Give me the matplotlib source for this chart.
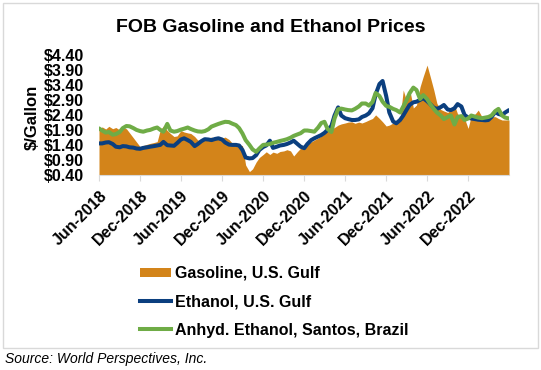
import pandas as pd
import numpy as np
import matplotlib
matplotlib.use('Agg')
import matplotlib.pyplot as plt
from matplotlib.patches import Rectangle, Patch
from matplotlib.lines import Line2D

plt.rcParams['font.family'] = ['Liberation Sans', 'DejaVu Sans']
plt.rcParams['text.parse_math'] = False

# semi-monthly observations, Jun-2018 .. Jun-2023
dates = pd.date_range('2018-06-01', periods=121, freq='SMS')

gasoline = [1.93, 2.02, 1.95, 2.04, 1.96, 2.00, 1.92, 1.98, 1.96, np.nan, np.nan, np.nan,
            1.36, 1.40, 1.44, 1.47, 1.50, 1.53, 1.92, 2.05, 1.90, 1.80, 1.70, 1.72,
            1.90, 1.85, 1.82, 1.80, 1.70, 1.58, 1.60, 1.64, 1.65, 1.68, 1.64, 1.70,
            1.65, 1.68, 1.60, 1.48, 1.45, 1.42, 1.40, 0.75, 0.53, 0.62, 0.85, 1.00,
            1.10, 1.19, 1.10, 1.18, 1.14, 1.20, 1.22, 1.26, 1.22, 1.05, 1.20, 1.31,
            1.35, 1.45, 1.52, 1.58, 1.65, 1.72, 1.78, 1.90, 1.95, 2.00, 2.08, 2.12,
            2.15, 2.18, 2.19, 2.14, 2.18, 2.15, 2.20, 2.25, 2.30, 2.42, 2.30, 2.19,
            2.05, 2.08, 2.15, 2.19, 2.30, 3.25, 2.90, 3.30, 2.65, 2.75, 3.36, 3.70,
            4.08, 3.70, 3.25, 2.80, 2.60, 2.55, 2.50, 2.60, 2.75, 2.45, 2.40, 2.30,
            1.97, 2.40, 2.45, 2.58, 2.35, 2.30, 2.32, 2.36, 2.36, 2.30, 2.25, 2.25,
            2.25]

ethanol_us = [1.47, 1.47, 1.50, 1.51, 1.45, 1.36, 1.34, 1.38, 1.37, 1.34, 1.33, 1.30,
              1.29, 1.32, 1.34, 1.36, 1.38, 1.40, 1.42, 1.52, 1.41, 1.40, 1.39, 1.48,
              1.60, 1.64, 1.58, 1.52, 1.38, 1.45, 1.55, 1.61, 1.60, 1.58, 1.62, 1.64,
              1.60, 1.50, 1.43, 1.42, 1.42, 1.40, 1.25, 1.00, 0.97, 0.98, 1.08, 1.25,
              1.35, 1.40, 1.56, 1.32, 1.36, 1.40, 1.42, 1.45, 1.50, 1.56, 1.45, 1.36,
              1.31, 1.45, 1.58, 1.64, 1.70, 1.75, 1.82, 1.92, 2.05, 2.40, 2.67, 2.40,
              2.31, 2.28, 2.25, 2.25, 2.27, 2.35, 2.40, 2.47, 2.64, 3.10, 3.45, 3.55,
              3.05, 2.50, 2.20, 2.14, 2.25, 2.40, 2.58, 2.75, 2.84, 2.86, 2.92, 2.98,
              2.88, 2.78, 2.66, 2.62, 2.68, 2.75, 2.60, 2.58, 2.64, 2.78, 2.70, 2.42,
              2.33, 2.30, 2.28, 2.26, 2.25, 2.24, 2.25, 2.35, 2.52, 2.45, 2.42, 2.50,
              2.58]

ethanol_br = [1.97, 1.90, 1.83, 1.85, 1.76, 1.78, 1.85, 1.98, 2.05, 2.04, 1.98, 1.92,
              1.88, 1.86, 1.90, 1.92, 1.97, 2.00, 1.92, 1.86, 2.12, 1.90, 1.86, 1.88,
              1.93, 1.96, 2.00, 1.95, 1.90, 1.87, 1.86, 1.88, 1.94, 2.03, 2.08, 2.12,
              2.16, 2.19, 2.18, 2.13, 2.08, 1.98, 1.80, 1.58, 1.42, 1.27, 1.19, 1.30,
              1.42, 1.43, 1.45, 1.49, 1.52, 1.55, 1.58, 1.61, 1.66, 1.72, 1.77, 1.81,
              1.90, 1.90, 1.88, 1.86, 2.00, 2.15, 2.19, 1.95, 1.85, 2.30, 2.61, 2.63,
              2.60, 2.58, 2.57, 2.62, 2.70, 2.80, 2.80, 2.73, 2.85, 3.15, 3.05, 2.86,
              2.72, 2.69, 2.62, 2.58, 2.50, 2.70, 2.90, 3.14, 3.33, 3.25, 2.95, 3.08,
              2.95, 2.78, 2.62, 2.50, 2.40, 2.28, 2.35, 2.40, 2.10, 2.35, 2.38, 2.25,
              2.30, 2.40, 2.36, 2.33, 2.31, 2.33, 2.35, 2.40, 2.55, 2.62, 2.40, 2.33,
              2.30]

labels = ['Gasoline, U.S. Gulf', 'Ethanol, U.S. Gulf', 'Anhyd. Ethanol, Santos, Brazil']
yticks = [0.40, 0.90, 1.40, 1.90, 2.40, 2.90, 3.40, 3.90, 4.40]
xticks = pd.date_range('2018-06-01', '2022-12-01', freq='6MS')

c_gas = '#D3841A'
c_us = '#0B3F7F'
c_br = '#6FAC46'
lw = 2.9

W, H = 541, 370
fig = plt.figure(figsize=(W / 100, H / 100), dpi=100)
ax = fig.add_axes([99 / W, 1 - 175.5 / H, 410 / W, 120 / H])

gas = pd.Series(gasoline, index=dates).dropna()
ax.fill_between(gas.index, 0, gas.values, color=c_gas, lw=0)
ax.plot(dates, ethanol_us, color=c_us, lw=lw, solid_capstyle='round')
ax.plot(dates, ethanol_br, color=c_br, lw=lw, solid_capstyle='round')

ax.set_xlim(dates[0], dates[-1])
ax.set_ylim(0.4, 4.4)
ax.set_yticks(yticks)
ax.set_yticklabels(['${:.2f}'.format(v) for v in yticks], fontsize=11.5, weight='bold')
ax.set_xticks(xticks)
ax.set_xticklabels([d.strftime('%b-%Y') for d in xticks], rotation=45, ha='right',
                   rotation_mode='anchor', fontsize=11.5, weight='bold')
ax.tick_params(axis='y', length=0, pad=11)
ax.tick_params(axis='x', length=4, color='#D9D9D9', pad=5)
for s in ['left', 'right', 'top']:
    ax.spines[s].set_visible(False)
ax.spines['bottom'].set_color('#D9D9D9')
ax.patch.set_alpha(0)

fig.text(32 / W, 1 - 117 / H, '$/Gallon', rotation=90, ha='center', va='center',
         fontsize=12, weight='bold')
fig.text(270.5 / W, 1 - 32.3 / H, 'FOB Gasoline and Ethanol Prices', ha='center',
         va='baseline', fontsize=14, weight='bold')

handles = [Patch(facecolor=c_gas, edgecolor='none'),
           Line2D([], [], color=c_us, lw=lw),
           Line2D([], [], color=c_br, lw=lw)]
fig.legend(handles, labels, loc='upper left', bbox_to_anchor=(140 / W, 1 - 266 / H),
           frameon=False, prop={'weight': 'bold', 'size': 11.5},
           handlelength=1.95, handleheight=0.55, handletextpad=0.25, labelspacing=0.83,
           borderpad=0, borderaxespad=0)

fig.add_artist(Rectangle((3 / W, 1 - 348 / H), 535 / W, 345 / H, transform=fig.transFigure,
                         fill=False, ec='#D9D9D9', lw=1))
fig.text(5 / W, 1 - 359 / H, 'Source: World Perspectives, Inc.', style='italic',
         fontsize=10, va='center')

fig.savefig('out.png', dpi=100)
